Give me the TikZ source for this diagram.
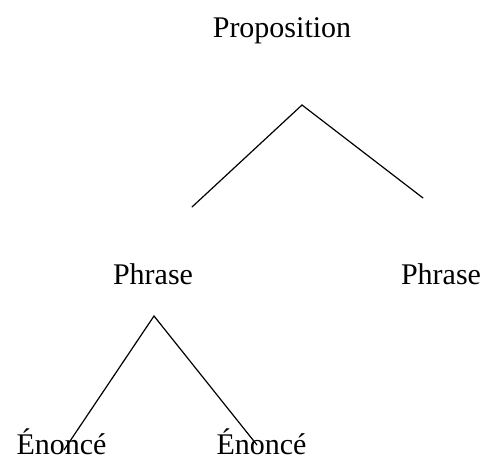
\documentclass[tikz,border=0pt]{standalone}
\usepackage{fontspec}
\setmainfont{Liberation Serif}
\usepackage{tikz}
\usetikzlibrary{positioning}

\begin{document}
\begin{tikzpicture}[x=1pt,y=-1pt,
    word/.style={font=\fontsize{30}{36}\selectfont, anchor=base, inner sep=0pt},
    branch/.style={line width=1.2pt, line cap=round, line join=miter}]
  \useasboundingbox (0,0) rectangle (486,461);

  \node[word] (prop) at (282,37) {Proposition};
  \node[word] (phraseL) at (153,284) {Phrase};
  \node[word] (phraseR) at (441,284) {Phrase};
  \node[word] (enonceL) at (61.5,454) {Énoncé};
  \node[word] (enonceR) at (261.5,454) {Énoncé};

  \coordinate (topApex) at (302,105);
  \coordinate (topL) at (192,207);
  \coordinate (topR) at (423,198);
  \draw[branch] (topL) -- (topApex) -- (topR);

  \coordinate (lowApex) at (154,316);
  \coordinate (lowL) at (64,450);
  \coordinate (lowR) at (257,445);
  \draw[branch] (lowL) -- (lowApex) -- (lowR);
\end{tikzpicture}
\end{document}
